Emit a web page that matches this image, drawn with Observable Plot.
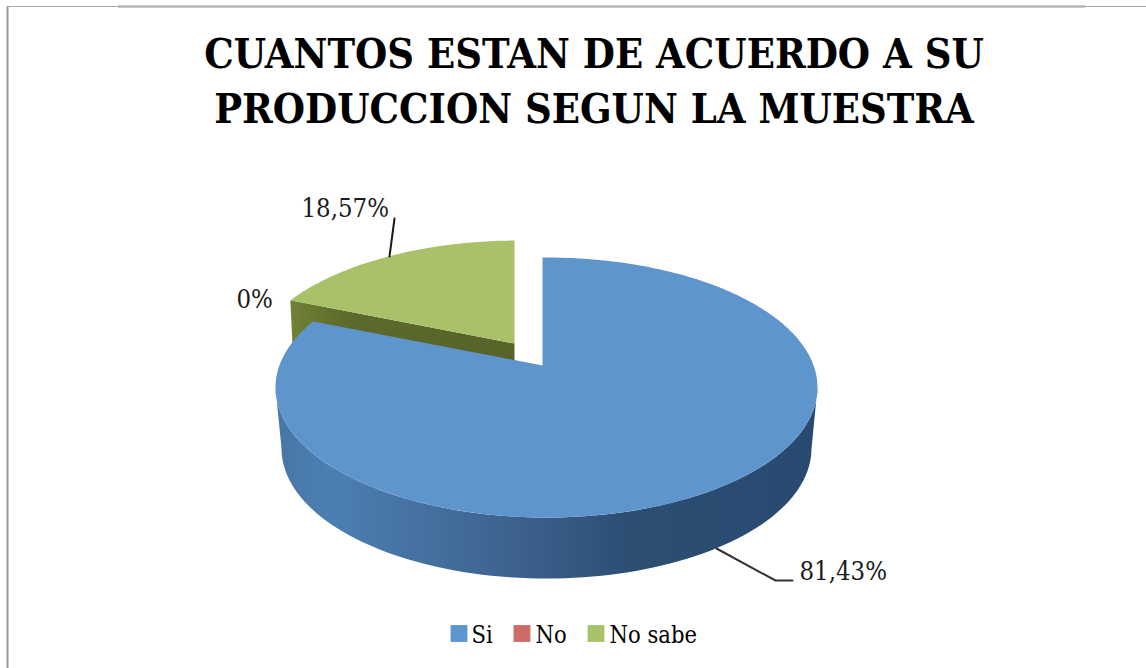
<!DOCTYPE html>
<html>
<head>
<meta charset="utf-8">
<script src="https://cdn.jsdelivr.net/npm/d3@7"></script>
<script src="https://cdn.jsdelivr.net/npm/@observablehq/plot@0.6"></script>
<style>
html,body{margin:0;padding:0;background:#fff;overflow:hidden}
svg{display:block}
</style>
</head>
<body>
<div id="chart"></div>
<script>
const titleLines = ["CUANTOS ESTAN DE ACUERDO A SU", "PRODUCCION SEGUN LA MUESTRA"];
const categories = ["Si", "No", "No sabe"];
const percents = [81.43, 0, 18.57];
const percentLabels = ["81,43%", "0%", "18,57%"];

const W = 1146, H = 668;
const serif = "'DejaVu Serif Condensed', 'DejaVu Serif', serif";
const colors = {Si: "#5f95cd", No: "#ce6b65", "No sabe": "#a9c26a"};
const ink = "#1a1a1a";

// Pie geometry
const rx = 271, ry = 130, depth = 61, bottomRx = 265, squash = 0.45;
const blue = {ax: 542, ay: 365, cx: 546, cy: 387};
const green = {ax: 514, ay: 343, cx: 518, cy: 370};

// Where the ray at pie angle theta (degrees clockwise from top) leaves the rim ellipse
function rim(s, deg) {
  const t = deg * Math.PI / 180;
  const dx = Math.sin(t) / rx, dy = -Math.cos(t) * squash / ry;
  const ox = (s.ax - s.cx) / rx, oy = (s.ay - s.cy) / ry;
  const a = dx * dx + dy * dy, b = 2 * (ox * dx + oy * dy), c = ox * ox + oy * oy - 1;
  const k = (-b + Math.sqrt(b * b - 4 * a * c)) / (2 * a);
  return [s.ax + k * Math.sin(t), s.ay - k * Math.cos(t) * squash];
}
function sector(s, a0, a1) {
  const pts = [[s.ax, s.ay]];
  const n = Math.max(2, Math.ceil(a1 - a0));
  for (let i = 0; i <= n; i++) pts.push(rim(s, a0 + (a1 - a0) * i / n));
  return pts;
}

const arcs = d3.pie().sort(null)(percents);
const toDeg = a => a * 180 / Math.PI;
const deg = {
  Si: [toDeg(arcs[0].startAngle), toDeg(arcs[0].endAngle)],
  "No sabe": [toDeg(arcs[2].startAngle), toDeg(arcs[2].endAngle)]
};

const blueTop = sector(blue, ...deg.Si);
const greenTop = sector(green, ...deg["No sabe"]);

// Blue outer wall: front half of the top rim, returning along the bottom rim
const blueSide = [];
for (let t = 0; t <= 180; t += 2) {
  const r = t * Math.PI / 180;
  blueSide.push([blue.cx + rx * Math.cos(r), blue.cy + ry * Math.sin(r)]);
}
for (let t = 180; t >= 0; t -= 2) {
  const r = t * Math.PI / 180;
  blueSide.push([blue.cx + bottomRx * Math.cos(r), blue.cy + depth + ry * Math.sin(r)]);
}
// Green cut wall, along the edge shared with the blue slice
const corner = rim(green, deg["No sabe"][0]);
const greenWall = [
  corner,
  [green.ax, green.ay],
  [green.ax, green.ay + depth],
  [corner[0] + 3, corner[1] + depth]
];

const gradient = () => {
  const ns = "http://www.w3.org/2000/svg";
  const defs = document.createElementNS(ns, "defs");
  defs.innerHTML = `<linearGradient id="sideGrad" gradientUnits="userSpaceOnUse" x1="275" y1="0" x2="818" y2="0">
    <stop offset="0" stop-color="#4676a6"/>
    <stop offset="0.1" stop-color="#4c7fb1"/>
    <stop offset="0.28" stop-color="#44709f"/>
    <stop offset="0.46" stop-color="#3b608b"/>
    <stop offset="0.65" stop-color="#2c4e73"/>
    <stop offset="1" stop-color="#284a70"/>
  </linearGradient>
  <linearGradient id="wallGrad" gradientUnits="userSpaceOnUse" x1="290" y1="0" x2="514" y2="0">
    <stop offset="0" stop-color="#6f8235"/>
    <stop offset="0.25" stop-color="#5d6a2c"/>
    <stop offset="1" stop-color="#566329"/>
  </linearGradient>`;
  return defs;
};

const poly = (pts, fill) => Plot.line(pts, {x: d => d[0], y: d => d[1], fill, stroke: "none", curve: "linear-closed"});

const legendX = [450, 513, 587];
const legendTextX = [471, 535, 609];
const labelPos = [[799, 579], [236, 307], [301, 216]];

const chart = Plot.plot({
  width: W, height: H,
  margin: 0,
  x: {domain: [0, W], range: [0, W], axis: null},
  y: {domain: [0, H], range: [0, H], axis: null},
  style: {background: "#fff"},
  marks: [
    gradient,
    // frame
    Plot.ruleX([7], {y1: 6, y2: H, stroke: "#9a9a9a", strokeWidth: 2}),
    Plot.ruleY([6], {x1: 7, x2: 118, stroke: "#a8a8a8", strokeWidth: 1}),
    Plot.ruleY([6], {x1: 118, x2: 1085, stroke: "#b4b4b4", strokeWidth: 2.5}),
    Plot.ruleY([6], {x1: 1085, x2: W, stroke: "#a0a0a0", strokeWidth: 1}),
    // title
    Plot.text(titleLines, {
      x: 593.5, y: (d, i) => [67, 122][i], text: d => d,
      fontFamily: serif, fontWeight: "bold", fontSize: 41.2, fill: "#000",
      textAnchor: "middle", lineAnchor: "bottom"
    }),
    // pie
    poly(greenWall, "url(#wallGrad)"),
    poly(greenTop, colors["No sabe"]),
    poly(blueSide, "url(#sideGrad)"),
    poly(blueTop, colors.Si),
    // leaders
    Plot.line([[389, 256], [394, 218]], {x: d => d[0], y: d => d[1], stroke: ink, strokeWidth: 2}),
    Plot.line([[716, 548], [775, 580], [792, 580]], {x: d => d[0], y: d => d[1], stroke: "#333", strokeWidth: 2}),
    // labels
    Plot.text(percentLabels, {
      x: (d, i) => labelPos[i][0], y: (d, i) => labelPos[i][1], text: d => d,
      textAnchor: "start", lineAnchor: "bottom",
      fontFamily: serif, fontSize: 25.5, fill: ink
    }),
    // legend
    Plot.dot(categories, {
      x: (d, i) => legendX[i] + 8.5, y: 633, symbol: "square", r: 9.5,
      fill: d => colors[d], stroke: "none"
    }),
    Plot.text(categories, {
      x: (d, i) => legendTextX[i], y: 642, text: d => d,
      textAnchor: "start", lineAnchor: "bottom",
      fontFamily: serif, fontSize: 23.5, fill: "#000"
    })
  ]
});
document.getElementById("chart").appendChild(chart);
</script>
</body>
</html>
